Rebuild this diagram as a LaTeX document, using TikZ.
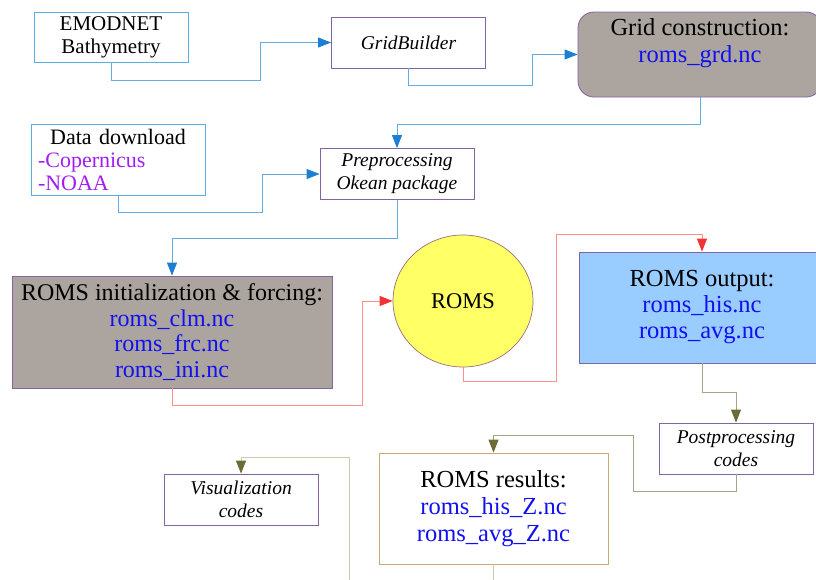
\documentclass[tikz,border=0pt]{standalone}
\usepackage{fontspec}
\setmainfont{Liberation Serif}
\usepackage{xcolor}
\usetikzlibrary{arrows.meta,shapes.geometric}
\definecolor{boxpurple}{HTML}{8463A3}
\definecolor{boxblue}{HTML}{5AAEE6}
\definecolor{boxtan}{HTML}{C9AA6E}
\definecolor{gridgray}{HTML}{ACA59F}
\definecolor{outblue}{HTML}{99CCFF}
\definecolor{romsyellow}{HTML}{FFFF66}
\definecolor{fileblue}{HTML}{1010F0}
\definecolor{srcviolet}{HTML}{A21CF5}
\definecolor{lineblue}{HTML}{62ACE4}
\definecolor{headblue}{HTML}{1D7FD3}
\definecolor{linered}{HTML}{FF8F8F}
\definecolor{headred}{HTML}{F03434}
\definecolor{lineolive}{HTML}{A3A38A}
\definecolor{headolive}{HTML}{6B6B35}
\definecolor{linekhaki}{HTML}{CFC9AE}

\begin{document}
\begin{tikzpicture}[x=1pt,y=-1pt,
			box/.style={draw=boxpurple,line width=0.85pt,align=center,inner sep=0pt},
			codebox/.style={box,minimum width=154,minimum height=51,
					font=\itshape\fontsize{19.5}{23}\selectfont},
			srcbox/.style={box,draw=boxblue},
			filebox/.style={box,font=\fontsize{24.5}{26}\selectfont},
			blink/.style={draw=lineblue,line width=0.9pt,-{Triangle[length=13pt,width=10pt,color=headblue]}},
			rlink/.style={draw=linered,line width=0.9pt,-{Triangle[length=13pt,width=10pt,color=headred]}},
			olink/.style={draw=lineolive,line width=0.9pt,-{Triangle[length=13pt,width=10pt,color=headolive]}},
		]
		\def\fn#1{{\color{fileblue}#1}}
		\useasboundingbox (0,0) rectangle (816,579);
		\clip (0,0) rectangle (816,579);

		% grid branch
		\node[srcbox,minimum width=154,minimum height=50,font=\fontsize{21}{23}\selectfont] (emod) at (111,37) {EMODNET\\Bathymetry};
		\node[codebox] (gridb) at (408.5,42.5) {GridBuilder};
		\node[box,fill=gridgray,rounded corners=16pt,minimum width=244,minimum height=85] (gridc) at (700,54.5) {};
		\node[font=\fontsize{24.5}{27}\selectfont,align=center] (gridctxt) at (700,43.5) {Grid construction:\\\fn{roms\_grd.nc}};

		% preprocessing branch
		\node[srcbox,minimum width=174,minimum height=71,text width=160,align=left,font=\fontsize{22}{23}\selectfont] (data) at (118,159.5)
			{\makebox[160pt]{Data download}\\{\color{srcviolet}-Copernicus}\\{\color{srcviolet}-NOAA}};
		\node[codebox] (prep) at (397,174) {Preprocessing\\Okean package};
		\node[filebox,fill=gridgray,minimum width=320,minimum height=112,font=\fontsize{24}{25.5}\selectfont] (init) at (172,332)
			{ROMS initialization \& forcing:\\\fn{roms\_clm.nc}\\\fn{roms\_frc.nc}\\\fn{roms\_ini.nc}};

		% model and output
		\node[ellipse,draw=boxpurple!60!brown,line width=0.7pt,fill=romsyellow,minimum width=140,minimum height=132,
			inner sep=0pt,font=\fontsize{22.5}{25}\selectfont] (roms) at (463,301) {ROMS};
		\node[filebox,fill=outblue,minimum width=246,minimum height=111] (out) at (702,307.5)
			{ROMS output:\\\fn{roms\_his.nc}\\\fn{roms\_avg.nc}};
		\node[codebox] (post) at (736,448.5) {Postprocessing\\codes};
		\node[filebox,draw=boxtan,minimum width=229,minimum height=111,font=\fontsize{24.5}{27}\selectfont] (res) at (493.5,508.5)
			{ROMS results:\\\fn{roms\_his\_Z.nc}\\\fn{roms\_avg\_Z.nc}};
		\node[codebox] (vis) at (241,499.5) {Visualization\\codes};
		\coordinate (visin) at (349,590);

		% connectors
		\draw[blink] (emod.south) |- (260,80) |- (gridb.west);
		\draw[blink] (gridb.south) |- (532,85) |- (gridc.west);
		\draw[blink] (gridc.south) |- (397,124) -- (prep.north);
		\draw[blink] (data.south) |- (262,212) |- (prep.west);
		\draw[blink] (prep.south) |- (172,238) -- (init.north);
		\draw[rlink] (init.south) |- (362,405) |- (roms.west);
		\draw[rlink] (roms.south) |- (556,381) |- (702,234) -- (out.north);
		\draw[olink] (out.south) |- (736,392) -- (post.north);
		\draw[olink] (post.south) |- (633,491) |- (493.5,435) -- (res.north);
		\draw[draw=linekhaki,line width=0.9pt] (res.south) -- ++(0,20);
		\draw[olink,draw=linekhaki] (visin) |- (241,457) -- (vis.north);
	\end{tikzpicture}
\end{document}
